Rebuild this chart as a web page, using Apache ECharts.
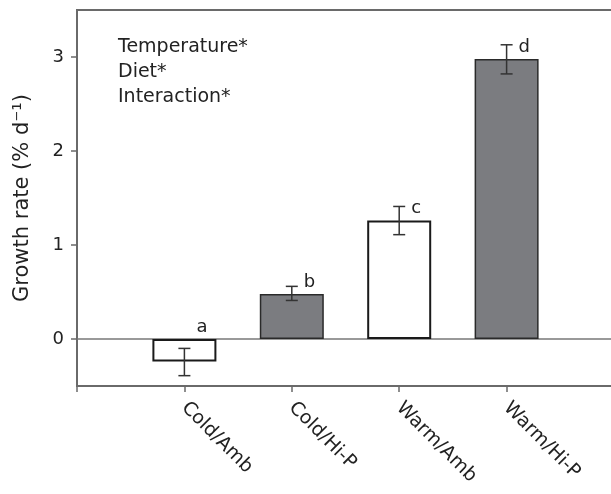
<!DOCTYPE html>
<html>
<head>
<meta charset="utf-8">
<script src="https://cdn.jsdelivr.net/npm/echarts@6/dist/echarts.min.js"></script>
<style>
html,body{margin:0;padding:0;background:#fff;overflow:hidden;width:611px;height:494px;}
#chart{width:620px;height:494px;}
</style>
</head>
<body>
<div id="chart"></div>
<script>
// ---- data ----
const categories = ['Cold/Amb', 'Cold/Hi-P', 'Warm/Amb', 'Warm/Hi-P'];
const growthRate = [-0.24, 0.48, 1.26, 2.98];
const errLow = [-0.39, 0.41, 1.11, 2.82];
const errHigh = [-0.10, 0.56, 1.41, 3.13];
const sigLetters = ['a', 'b', 'c', 'd'];
const diet = ['Amb', 'Hi-P', 'Amb', 'Hi-P'];
const factors = ['Temperature*', 'Diet*', 'Interaction*'];
const yTicks = [0, 1, 2, 3];

// ---- build ----
const FONT = '"DejaVu Sans", "Liberation Sans", Arial, sans-serif';
const TXT = '#222';
const AXIS = '#6a6a6a';
const axisCats = [''].concat(categories, ['']);
const barData = [null].concat(growthRate.map((v, i) => ({
  value: v,
  itemStyle: diet[i] === 'Hi-P'
    ? { color: '#7b7c80', borderColor: '#2a2a2a', borderWidth: 1.5 }
    : { color: '#ffffff', borderColor: '#1a1a1a', borderWidth: 2 }
})), [null]);
const errData = categories.map((c, i) => [i + 1, errLow[i], errHigh[i], growthRate[i]]);

const chart = echarts.init(document.getElementById('chart'), null, { renderer: 'canvas' });
chart.setOption({
  animation: false,
  backgroundColor: '#fff',
  grid: {
    left: 77, right: 6, top: 10, bottom: 108,
    show: true, borderColor: AXIS, borderWidth: 2, backgroundColor: 'transparent'
  },
  graphic: [{
    type: 'text',
    left: 118, top: 35,
    style: {
      text: factors.join('\n'),
      font: '19px ' + FONT,
      lineHeight: 25,
      fill: TXT
    }
  }],
  xAxis: {
    type: 'category',
    data: axisCats,
    boundaryGap: false,
    axisLine: { show: true, onZero: false, lineStyle: { color: AXIS, width: 2 } },
    axisTick: { show: true, length: 6, lineStyle: { color: AXIS, width: 1.5 } },
    axisLabel: {
      rotate: -45, margin: 19, interval: 0,
      fontFamily: FONT, fontSize: 19, color: TXT
    },
    splitLine: { show: false }
  },
  yAxis: {
    type: 'value',
    min: -0.5, max: 3.5,
    name: 'Growth rate (% d⁻¹)',
    nameLocation: 'middle',
    nameGap: 44,
    nameTextStyle: { fontFamily: FONT, fontSize: 21, color: TXT },
    axisLine: { show: true, lineStyle: { color: AXIS, width: 2 } },
    axisTick: { show: true, length: 6, customValues: yTicks, lineStyle: { color: AXIS, width: 1.5 } },
    axisLabel: { customValues: yTicks, margin: 13, fontFamily: FONT, fontSize: 18, color: TXT },
    splitLine: { show: false }
  },
  series: [
    {
      type: 'bar',
      data: barData,
      barWidth: 64,
      z: 3,
      markLine: {
        silent: true,
        symbol: ['none', 'none'],
        label: { show: false },
        lineStyle: { color: '#777', width: 1.5, type: 'solid' },
        data: [{ yAxis: 0 }],
        z: 1
      }
    },
    {
      type: 'custom',
      data: errData,
      z: 5,
      renderItem: function (params, api) {
        const x = api.value(0);
        const lo = api.coord([x, api.value(1)]);
        const hi = api.coord([x, api.value(2)]);
        const top = api.coord([x, Math.max(api.value(3), 0)]);
        const cap = 6;
        const ls = { stroke: '#333', lineWidth: 1.5 };
        return {
          type: 'group',
          children: [
            { type: 'line', shape: { x1: hi[0], y1: hi[1], x2: lo[0], y2: lo[1] }, style: ls },
            { type: 'line', shape: { x1: hi[0] - cap, y1: hi[1], x2: hi[0] + cap, y2: hi[1] }, style: ls },
            { type: 'line', shape: { x1: lo[0] - cap, y1: lo[1], x2: lo[0] + cap, y2: lo[1] }, style: ls },
            {
              type: 'text',
              style: {
                text: sigLetters[params.dataIndex],
                x: top[0] + 12, y: top[1] - 12,
                font: '18px ' + FONT,
                fill: TXT,
                align: 'left', verticalAlign: 'middle'
              }
            }
          ]
        };
      }
    }
  ]
});
</script>
</body>
</html>
